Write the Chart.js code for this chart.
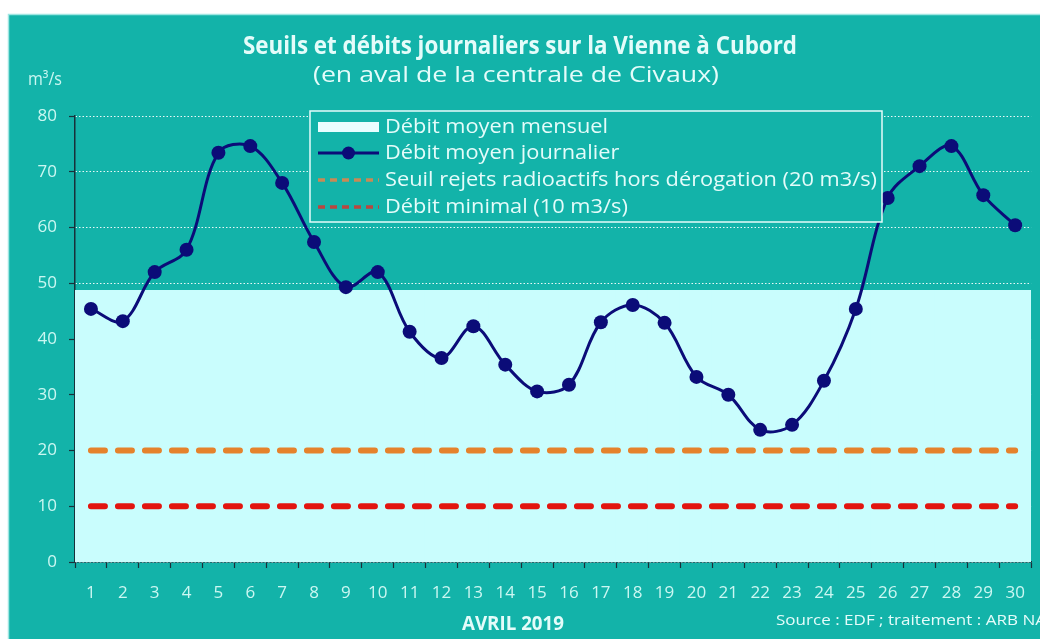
<!DOCTYPE html>
<html>
<head>
<meta charset="utf-8">
<script src="https://cdn.jsdelivr.net/npm/chart.js@4.4.1/dist/chart.umd.min.js"></script>
<style>
  html, body { margin: 0; padding: 0; background: #ffffff; }
  #wrap { width: 1040px; height: 639px; }
</style>
</head>
<body>
<div id="wrap"><canvas id="chart" width="1040" height="639"></canvas></div>
<script>
// jours d'avril 2019
const days = ["1","2","3","4","5","6","7","8","9","10","11","12","13","14","15",
  "16","17","18","19","20","21","22","23","24","25","26","27","28","29","30"];

// débit moyen journalier (m3/s)
const dailyFlow = [45.4, 43.2, 52.0, 56.0, 73.4, 74.6, 68.0, 57.4, 49.3, 52.0,
  41.3, 36.6, 42.3, 35.4, 30.6, 31.8, 43.0, 46.1, 42.9, 33.2,
  30.0, 23.7, 24.6, 32.5, 45.4, 65.3, 71.0, 74.6, 65.8, 60.4];

// débit moyen mensuel
const monthlyMean = [48.6, 48.6, 48.6, 48.6, 48.6, 48.6, 48.6, 48.6, 48.6, 48.6,
  48.6, 48.6, 48.6, 48.6, 48.6, 48.6, 48.6, 48.6, 48.6, 48.6,
  48.6, 48.6, 48.6, 48.6, 48.6, 48.6, 48.6, 48.6, 48.6, 48.6];

// seuil rejets radioactifs (20 m3/s)
const seuilRejets = [20, 20, 20, 20, 20, 20, 20, 20, 20, 20,
  20, 20, 20, 20, 20, 20, 20, 20, 20, 20,
  20, 20, 20, 20, 20, 20, 20, 20, 20, 20];

// débit minimal (10 m3/s)
const debitMinimal = [10, 10, 10, 10, 10, 10, 10, 10, 10, 10,
  10, 10, 10, 10, 10, 10, 10, 10, 10, 10,
  10, 10, 10, 10, 10, 10, 10, 10, 10, 10];

const yTicks = [0, 10, 20, 30, 40, 50, 60, 70, 80];

const legendLabels = [
  "Débit moyen mensuel",
  "Débit moyen journalier",
  "Seuil rejets radioactifs hors dérogation (20 m3/s)",
  "Débit minimal (10 m3/s)"
];

const TEAL = "#13b3a9";
const CYAN = "#c9fdfd";
const NAVY = "#0b0c78";
const ORANGE = "#e5822c";
const RED = "#e2150f";
const TXT = "#e4fcfa";
const TICK_TXT = "#cbf7f2";
const FONT = "'Open Sans', 'DejaVu Sans', sans-serif";

// texte étiré / compressé à une largeur donnée
function fitText(ctx, text, x, y, width, align) {
  const w = ctx.measureText(text).width;
  ctx.save();
  ctx.translate(x, y);
  ctx.scale(width / w, 1);
  ctx.textAlign = align;
  ctx.fillText(text, 0, 0);
  ctx.restore();
}

const decorPlugin = {
  id: "decor",
  beforeDraw(chart) {
    const ctx = chart.ctx;
    ctx.save();
    ctx.fillStyle = "#ffffff";
    ctx.fillRect(0, 0, chart.width, chart.height);
    ctx.fillStyle = TEAL;
    ctx.fillRect(8, 14, chart.width - 8, chart.height - 14);
    ctx.strokeStyle = "#9fe6e2";
    ctx.lineWidth = 1.5;
    ctx.beginPath();
    ctx.moveTo(8.5, chart.height);
    ctx.lineTo(8.5, 14.5);
    ctx.lineTo(chart.width, 14.5);
    ctx.stroke();
    ctx.restore();
  },
  afterDraw(chart) {
    const ctx = chart.ctx;
    ctx.save();
    ctx.fillStyle = TXT;
    ctx.textBaseline = "middle";

    // titres
    ctx.font = "bold 25px " + FONT;
    fitText(ctx, "Seuils et débits journaliers sur la Vienne à Cubord", 520, 47, 554, "center");
    ctx.font = "22px " + FONT;
    fitText(ctx, "(en aval de la centrale de Civaux)", 516, 76, 406, "center");

    // unité
    ctx.fillStyle = TICK_TXT;
    ctx.font = "18px " + FONT;
    fitText(ctx, "m³/s", 28, 80, 34, "left");

    // titre axe x + source
    ctx.fillStyle = TXT;
    ctx.font = "bold 19px " + FONT;
    fitText(ctx, "AVRIL 2019", 513, 625, 102, "center");
    ctx.font = "15px " + FONT;
    fitText(ctx, "Source : EDF ; traitement : ARB NA", 776, 621, 270, "left");

    // légende
    const bx = 310, by = 111, bw = 572, bh = 111;
    ctx.fillStyle = TEAL;
    ctx.fillRect(bx, by, bw, bh);
    ctx.strokeStyle = "#e6fbfa";
    ctx.lineWidth = 1.5;
    ctx.strokeRect(bx, by, bw, bh);

    const sx0 = 318, sx1 = 379, tx = 385;
    const rows = [127, 153, 180, 207];

    ctx.fillStyle = "#e9feff";
    ctx.fillRect(sx0, rows[0] - 5, sx1 - sx0, 10);

    ctx.strokeStyle = NAVY;
    ctx.lineWidth = 3;
    ctx.beginPath();
    ctx.moveTo(sx0, rows[1]);
    ctx.lineTo(sx1, rows[1]);
    ctx.stroke();
    ctx.fillStyle = NAVY;
    ctx.beginPath();
    ctx.arc((sx0 + sx1) / 2, rows[1], 6.5, 0, Math.PI * 2);
    ctx.fill();

    ctx.lineWidth = 3.5;
    ctx.setLineDash([7, 5]);
    ctx.strokeStyle = "#c98a55";
    ctx.beginPath();
    ctx.moveTo(sx0, rows[2]);
    ctx.lineTo(sx1, rows[2]);
    ctx.stroke();
    ctx.strokeStyle = "#b9473f";
    ctx.beginPath();
    ctx.moveTo(sx0, rows[3]);
    ctx.lineTo(sx1, rows[3]);
    ctx.stroke();
    ctx.setLineDash([]);

    ctx.fillStyle = TXT;
    ctx.font = "20px " + FONT;
    const scale = 492 / ctx.measureText(legendLabels[2]).width;
    legendLabels.forEach((label, i) => {
      const w = ctx.measureText(label).width * scale;
      fitText(ctx, label, tx, rows[i], w, "left");
    });

    ctx.restore();
  }
};

const ctx = document.getElementById("chart").getContext("2d");
const myChart = new Chart(ctx, {
  type: "bar",
  data: {
    labels: days,
    datasets: [
      {
        type: "line",
        label: legendLabels[1],
        data: dailyFlow,
        borderColor: NAVY,
        backgroundColor: NAVY,
        borderWidth: 3,
        pointRadius: 7,
        pointBackgroundColor: NAVY,
        pointBorderWidth: 0,
        tension: 0.35,
        order: 0
      },
      {
        type: "line",
        label: legendLabels[2],
        data: seuilRejets,
        borderColor: ORANGE,
        borderWidth: 6,
        borderDash: [14, 13],
        borderCapStyle: "round",
        pointRadius: 0,
        order: 1
      },
      {
        type: "line",
        label: legendLabels[3],
        data: debitMinimal,
        borderColor: RED,
        borderWidth: 6,
        borderDash: [14, 13],
        borderCapStyle: "round",
        pointRadius: 0,
        order: 2
      },
      {
        type: "bar",
        label: legendLabels[0],
        data: monthlyMean,
        backgroundColor: CYAN,
        borderWidth: 0,
        inflateAmount: 1,
        barPercentage: 1,
        categoryPercentage: 1,
        order: 3
      }
    ]
  },
  options: {
    responsive: false,
    animation: false,
    events: [],
    layout: {
      padding: { left: 0, right: 5, top: 116, bottom: 0 }
    },
    plugins: {
      legend: { display: false },
      title: { display: false },
      tooltip: { enabled: false }
    },
    scales: {
      x: {
        type: "category",
        offset: true,
        afterFit: (scale) => { scale.height = 77; },
        grid: {
          offset: true,
          drawOnChartArea: false,
          drawTicks: true,
          tickLength: 6,
          tickColor: "#18303a",
          tickWidth: 1.2
        },
        border: { color: "#18303a", width: 1.5 },
        ticks: {
          color: TICK_TXT,
          font: { family: FONT, size: 17 },
          padding: 15,
          maxRotation: 0,
          autoSkip: false
        }
      },
      y: {
        min: 0,
        max: 80,
        afterFit: (scale) => { scale.width = 75; },
        afterBuildTicks: (scale) => {
          scale.ticks = yTicks.map((v) => ({ value: v }));
        },
        grid: {
          color: "rgba(255,255,255,0.9)",
          lineWidth: 1,
          drawTicks: true,
          tickLength: 6,
          tickColor: "#18303a",
          tickWidth: 1.2
        },
        border: { color: "#18303a", width: 1.5, dash: [1.5, 2] },
        ticks: {
          color: TICK_TXT,
          font: { family: FONT, size: 17 },
          padding: 12
        }
      }
    }
  },
  plugins: [decorPlugin]
});
</script>
</body>
</html>
